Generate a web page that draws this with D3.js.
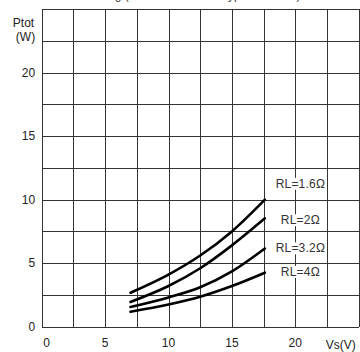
<!DOCTYPE html>
<html>
<head>
<meta charset="utf-8">
<script src="https://cdn.jsdelivr.net/npm/d3@7"></script>
<style>
  body { margin: 0; background: #fff; }
  svg { display: block; font-family: "Liberation Sans", Arial, sans-serif; }
  .grid line { stroke: #333; stroke-width: 1; shape-rendering: crispEdges; }
  .grid .domain { display: none; }
  .tick-label { font-size: 12px; fill: #222; }
  .curve { fill: none; stroke: #000; stroke-width: 2.6; stroke-linecap: round; }
  .rl-label { font-size: 12px; fill: #333; letter-spacing: 0.2px; }
</style>
</head>
<body>
<div id="chart"></div>
<script>
// supply voltage Vs (V)
const vs = [7, 10, 12.5, 15, 17.6];
// total dissipation Ptot (W) per load
const ptot16 = [2.67, 4.1, 5.6, 7.5, 10.0];
const ptot2 = [1.95, 3.2, 4.6, 6.4, 8.53];
const ptot32 = [1.55, 2.3, 3.1, 4.35, 6.15];
const ptot4 = [1.18, 1.75, 2.36, 3.2, 4.25];
const loads = ["RL=1.6Ω", "RL=2Ω", "RL=3.2Ω", "RL=4Ω"];
const xLabels = [0, 5, 10, 15, 20];
const yLabels = [0, 5, 10, 15, 20];

const series = [ptot16, ptot2, ptot32, ptot4];

const W = 360, H = 352;
const margin = { top: 9, right: 1.3, bottom: 25.3, left: 41.7 },
  width = W - margin.left - margin.right,
  height = H - margin.top - margin.bottom;

const svg = d3.select("#chart").append("svg")
  .attr("width", W).attr("height", H);

// title is cut off at the top edge
svg.append("text")
  .attr("x", 10).attr("y", -1.5)
  .attr("font-size", 12).attr("fill", "#444")
  .text("Total Power Derating (Two Channels at Typical Levels)");

const g = svg.append("g")
  .attr("transform", "translate(" + margin.left + "," + margin.top + ")");

const x = d3.scaleLinear().domain([0, 25]).range([0, width]);
const y = d3.scaleLinear().domain([0, 25]).range([height, 0]);

const gridTicks = d3.range(0, 25.01, 2.5);

// vertical grid
g.append("g")
  .attr("class", "grid")
  .attr("transform", "translate(0," + height + ")")
  .call(d3.axisBottom(x).tickValues(gridTicks).tickSize(height).tickFormat(""))
  .selectAll("line").attr("y1", 0).attr("y2", -height);

// horizontal grid
g.append("g")
  .attr("class", "grid")
  .call(d3.axisLeft(y).tickValues(gridTicks).tickSize(-width).tickFormat(""));

// x labels
g.selectAll(".xl")
  .data(xLabels)
  .enter().append("text")
  .attr("class", "tick-label")
  .attr("x", d => x(d) + (d === 0 ? 5 : 0))
  .attr("y", height + 20)
  .attr("text-anchor", "middle")
  .text(d => d);

// y labels
g.selectAll(".yl")
  .data(yLabels)
  .enter().append("text")
  .attr("class", "tick-label")
  .attr("x", -6.5)
  .attr("y", d => y(d) + 4.3)
  .attr("text-anchor", "end")
  .text(d => d);

// axis titles
g.append("text").attr("class", "tick-label")
  .attr("x", -7.5).attr("y", 17.7).attr("text-anchor", "end").text("Ptot");
g.append("text").attr("class", "tick-label")
  .attr("x", -6.5).attr("y", 31.5).attr("text-anchor", "end").text("(W)");
g.append("text").attr("class", "tick-label")
  .attr("x", width - 3).attr("y", height + 22.5).attr("text-anchor", "end").text("Vs(V)");

// curves
const line = d3.line()
  .x((d, i) => x(vs[i]))
  .y(d => y(d))
  .curve(d3.curveMonotoneX);

g.selectAll(".curve")
  .data(series)
  .enter().append("path")
  .attr("class", "curve")
  .attr("d", line);

// load labels with white boxes
const labelY = [11.27, 8.4, 6.19, 4.33];
loads.forEach((t, i) => {
  const lg = g.append("g");
  const txt = lg.append("text")
    .attr("class", "rl-label")
    .attr("x", x(20.4))
    .attr("y", y(labelY[i]) + 4.3)
    .attr("text-anchor", "middle")
    .text(t);
  const b = txt.node().getBBox();
  lg.insert("rect", "text")
    .attr("x", b.x - 1).attr("y", b.y + 1)
    .attr("width", b.width + 2).attr("height", b.height - 2)
    .attr("fill", "#fff");
});
</script>
</body>
</html>
